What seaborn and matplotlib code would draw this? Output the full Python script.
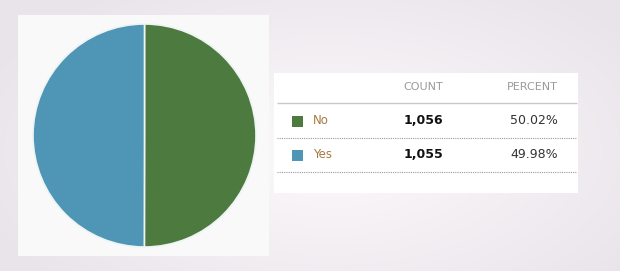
import numpy as np
import matplotlib
matplotlib.use("Agg")
import matplotlib.pyplot as plt
from matplotlib.patches import Rectangle
import seaborn as sns

# ---- data ----
categories = ["No", "Yes"]
counts = [1056, 1055]
colors = ["#4d7a3f", "#4f95b6"]
headers = ["COUNT", "PERCENT"]

sns.set_theme(style="white")
plt.rcParams["font.family"] = ["DejaVu Sans"]

W, H = 620, 271
fig = plt.figure(figsize=(W / 100, H / 100), dpi=100)

# background gradient
bg = fig.add_axes([0, 0, 1, 1])
yy, xx = np.mgrid[0:H, 0:W]
r = np.sqrt(((xx - 330) / 380.0) ** 2 + ((yy - 150) / 200.0) ** 2)
r = np.clip(r, 0, 1)
c0 = np.array([0xfd, 0xfa, 0xfd]) / 255
c1 = np.array([0xe8, 0xe4, 0xe9]) / 255
img = c0[None, None, :] * (1 - r[..., None]) + c1[None, None, :] * r[..., None]
bg.imshow(img, extent=[0, W, H, 0], aspect="auto")
bg.set_xlim(0, W)
bg.set_ylim(H, 0)
bg.axis("off")

# panels
bg.add_patch(Rectangle((18, 15), 251, 241, facecolor="#f9f9f9", edgecolor="none"))
bg.add_patch(Rectangle((274, 73), 304, 120, facecolor="#ffffff", edgecolor="none"))

# pie
pax = fig.add_axes([33 / W, 1 - 247 / H, 223 / W, 223 / H])
pax.pie(counts, colors=colors, startangle=90, counterclock=False,
        wedgeprops=dict(edgecolor="#eef4f4", linewidth=1.2))
pax.set_xlim(-1, 1)
pax.set_ylim(-1, 1)
pax.set_aspect("auto")
pax.axis("off")

# table
total = sum(counts)
hdr_y = 87
bg.text(443, hdr_y, headers[0], ha="right", va="center", fontsize=8, color="#9a9a9a")
bg.text(558, hdr_y, headers[1], ha="right", va="center", fontsize=8, color="#9a9a9a")
bg.plot([277, 577], [103, 103], color="#c8c8c8", lw=1.0, solid_capstyle="butt")

row0, step = 121, 34
for i, (cat, cnt, col) in enumerate(zip(categories, counts, colors)):
    y = row0 + i * step
    bg.add_patch(Rectangle((292, y - 5), 10.5, 10.5, facecolor=col, edgecolor="none"))
    bg.text(313, y, cat, ha="left", va="center", fontsize=8.5, color="#a87a40")
    bg.text(443, y, f"{cnt:,}", ha="right", va="center", fontsize=9,
            fontweight="bold", color="#111111")
    bg.text(558, y, f"{100 * cnt / total:.2f}%", ha="right", va="center",
            fontsize=9, color="#333333")
    bg.plot([277, 577], [y + 16.5, y + 16.5], color="#9a9a9a", lw=0.8,
            linestyle=(0, (1, 1)))

fig.savefig("out.png", dpi=100)
